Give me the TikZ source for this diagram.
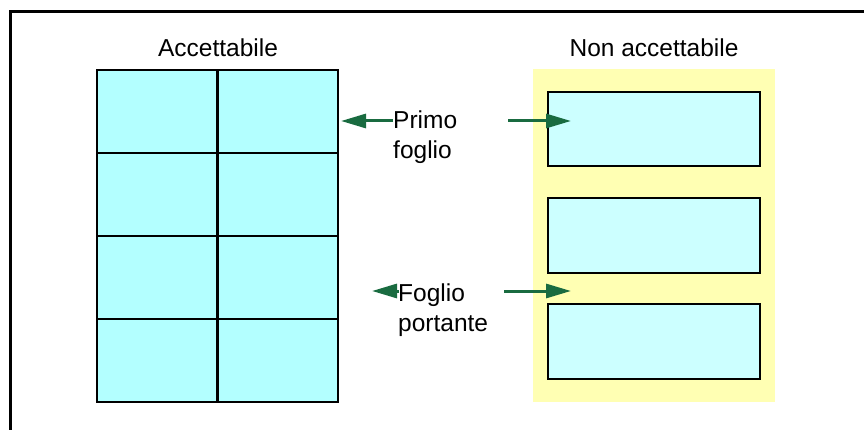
\documentclass[tikz,border=0pt]{standalone}
\usepackage{fontspec}
\setmainfont{Liberation Sans}
\usetikzlibrary{arrows.meta}
\definecolor{cyanA}{HTML}{B3FFFF}
\definecolor{cyanB}{HTML}{CCFFFF}
\definecolor{yel}{HTML}{FFFFB3}
\definecolor{grn}{HTML}{196B40}
\tikzset{
  frame/.style={line width=3pt, line cap=butt},
  gcell/.style={draw, fill=cyanA, line width=2.6pt, inner sep=0pt, outer sep=0pt, anchor=north west, minimum width=120.5pt, minimum height=83pt},
  sheet/.style={draw, fill=cyanB, line width=2.8pt, inner sep=0pt, outer sep=0pt, anchor=north west, minimum width=212pt},
  lbl/.style={font=\fontsize{24.5}{30}\selectfont, inner sep=0pt, align=left},
  garrow/.style={draw=grn, line width=3pt, -{Triangle[length=25pt,width=14pt]}, shorten >=0pt}
}
\begin{document}
\begin{tikzpicture}[x=1pt,y=-1pt]
\useasboundingbox (0,0) rectangle (864,430);
% frame
\draw[frame] (10.5,430) -- (10.5,12) -- (864,12);
% titles
\node[lbl, anchor=base] (tA) at (218,57) {Accettabile};
\node[lbl, anchor=base] (tN) at (654,57) {Non accettabile};
% left grid
\foreach \r/\y in {1/70,2/153,3/236,4/319}{
  \node[gcell] (a\r1) at (97,\y) {};
  \node[gcell] (a\r2) at (217.5,\y) {};
}
% right panel
\fill[yel] (533,69) rectangle (775,402);
\node[sheet, minimum height=74pt] (s1) at (548,92) {};
\node[sheet, minimum height=75pt] (s2) at (548,198) {};
\node[sheet, minimum height=75pt] (s3) at (548,304) {};
% labels
\node[lbl, anchor=base west] (primo) at (393,159) {Primo\\foglio};
\node[lbl, anchor=base west] (foglio) at (398,331) {Foglio\\portante};
% arrows
\coordinate (p1) at (393,121);
\coordinate (p2) at (341,121);
\coordinate (p3) at (508,121);
\coordinate (p4) at (571,121);
\coordinate (f1) at (399,291);
\coordinate (f2) at (372,291);
\coordinate (f3) at (504,291);
\coordinate (f4) at (571,291);
\draw[garrow] (p1) -- (p2);
\draw[garrow] (p3) -- (p4);
\draw[garrow] (f1) -- (f2);
\draw[garrow] (f3) -- (f4);
\end{tikzpicture}
\end{document}
